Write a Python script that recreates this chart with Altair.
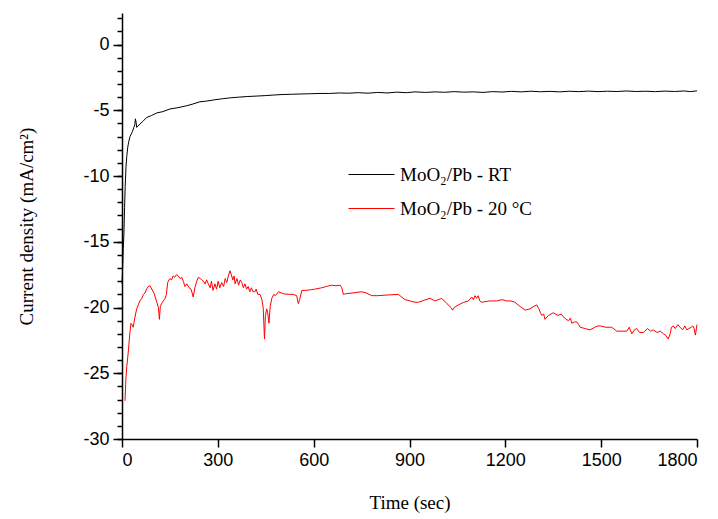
import altair as alt
import pandas as pd

black_label = "MoO\u2082/Pb - RT"
red_label = "MoO\u2082/Pb - 20 \u00b0C"

black_t = [0, 2, 4, 6, 8, 10, 12.5, 15, 18, 21, 25, 29, 33, 37, 40, 42, 44, 46, 50, 56,
           65, 77, 92, 109, 128, 150, 175, 203, 225, 244, 265, 291, 315, 340, 365, 394,
           420, 450, 475, 501, 530, 560, 590, 620, 650, 680, 708, 740, 770, 800, 830,
           860, 890, 917, 950, 980, 1010, 1040, 1070, 1100, 1130, 1160, 1190, 1220,
           1250, 1280, 1310, 1340, 1370, 1400, 1430, 1460, 1490, 1520, 1550, 1580,
           1610, 1640, 1670, 1700, 1730, 1760, 1780, 1800]
black_v = [-18.2, -17.0, -15.5, -14.4, -12.4, -10.8, -9.3, -8.5, -7.8, -7.4, -7.0, -6.8,
           -6.6, -6.3, -6.1, -5.65, -5.9, -6.3, -6.2, -6.05, -5.85, -5.55, -5.4, -5.2,
           -5.1, -4.9, -4.8, -4.65, -4.5, -4.35, -4.3, -4.2, -4.12, -4.05, -4.0, -3.95,
           -3.92, -3.88, -3.84, -3.8, -3.78, -3.76, -3.74, -3.72, -3.72, -3.68, -3.7,
           -3.66, -3.7, -3.64, -3.68, -3.62, -3.66, -3.6, -3.64, -3.6, -3.63, -3.58,
           -3.62, -3.6, -3.64, -3.58, -3.61, -3.56, -3.6, -3.55, -3.59, -3.56, -3.6,
           -3.55, -3.58, -3.54, -3.58, -3.55, -3.57, -3.53, -3.57, -3.55, -3.58, -3.54,
           -3.57, -3.53, -3.58, -3.52]

red_t = [9.4, 12, 15, 20, 24, 28, 31, 35, 40, 46, 51, 56, 62, 67, 72, 77, 82, 88, 93, 100,
         109, 114, 117, 120, 124, 129, 135, 139, 143, 147, 150, 155, 160, 165, 171, 176,
         182, 187, 192, 197, 203, 210, 216, 223, 228, 234, 239, 245, 250, 255, 260, 265,
         270, 276, 280, 285, 291, 296, 301, 306, 312, 318, 323, 328, 333, 338, 342, 347,
         351, 354, 360, 365, 370, 375, 380, 385, 390, 395, 400, 405, 410, 416, 420, 425,
         432, 438, 442, 446, 449, 453, 456, 460, 464, 469, 475, 480, 490, 505, 521, 535,
         547, 550, 552, 556, 563, 575, 590, 604, 625, 640, 656, 670, 683, 688, 693, 700,
         720, 750, 765, 782, 800, 830, 865, 886, 902, 917, 928, 945, 964, 980, 1001, 1017,
         1030, 1035, 1040, 1053, 1070, 1084, 1095, 1100, 1105, 1110, 1115, 1120, 1126,
         1150, 1173, 1190, 1204, 1218, 1230, 1245, 1262, 1277, 1290, 1298, 1305, 1310,
         1314, 1320, 1324, 1335, 1350, 1365, 1375, 1382, 1390, 1398, 1404, 1408, 1416,
         1424, 1430, 1434, 1450, 1465, 1480, 1490, 1497, 1515, 1533, 1549, 1565, 1580,
         1588, 1596, 1604, 1611, 1620, 1632, 1645, 1655, 1663, 1675, 1685, 1695, 1702,
         1710, 1716, 1720, 1726, 1732, 1740, 1747, 1755, 1762, 1768, 1775, 1782, 1787,
         1791, 1795, 1800]
red_v = [-27.1, -25.5, -24.5, -23.3, -22.1, -21.2, -21.3, -21.5, -20.8, -20.1, -19.8, -19.5,
         -19.3, -19.0, -18.9, -18.6, -18.4, -18.35, -18.6, -18.9, -19.6, -20.0, -20.9, -19.9,
         -19.7, -19.5, -19.3, -19.0, -18.1, -17.9, -17.8, -17.9, -17.6, -17.7, -17.5, -17.6,
         -17.8, -17.7, -18.0, -18.4, -18.2, -18.5, -18.6, -19.2, -18.5, -18.0, -17.7, -17.8,
         -17.9, -18.0, -18.2, -17.9, -18.2, -18.5, -18.0, -18.7, -18.2, -18.6, -18.0, -18.5,
         -18.1, -18.4, -17.8, -18.1, -17.6, -17.2, -17.5, -17.9, -17.6, -18.2, -17.8, -18.3,
         -17.9, -18.1, -18.5, -18.2, -18.6, -18.4, -18.8, -18.5, -18.8, -18.8, -18.6, -19.0,
         -19.0, -19.4, -20.0, -22.4, -20.6, -20.1, -20.4, -21.2, -19.9, -19.3, -19.0, -19.1,
         -18.8, -18.95, -19.0, -19.0, -19.1, -19.5, -19.7, -19.4, -18.7, -18.7, -18.65, -18.6,
         -18.5, -18.4, -18.3, -18.35, -18.3, -18.5, -19.0, -18.95, -18.9, -18.8, -18.9, -19.1,
         -19.1, -19.05, -19.0, -19.4, -19.5, -19.6, -19.6, -19.45, -19.3, -19.5, -19.3, -19.7,
         -20.0, -20.2, -20.0, -19.8, -19.6, -19.5, -19.2, -19.4, -19.1, -19.3, -19.1, -19.5,
         -19.6, -19.5, -19.5, -19.4, -19.5, -19.5, -19.6, -19.9, -20.2, -20.1, -19.9, -19.8,
         -20.1, -20.4, -20.6, -20.5, -20.9, -20.6, -20.4, -20.6, -20.5, -20.7, -20.9, -21.0,
         -20.8, -21.2, -21.1, -21.1, -21.3, -21.5, -21.6, -21.7, -21.5, -21.4, -21.4, -21.5,
         -21.5, -21.8, -21.8, -21.8, -21.5, -22.0, -21.7, -21.6, -21.9, -21.9, -21.6, -21.8,
         -21.7, -21.9, -21.8, -22.0, -22.1, -22.4, -22.0, -21.5, -21.4, -21.6, -21.3, -21.5,
         -21.7, -21.4, -21.7, -21.6, -21.5, -21.4, -21.6, -22.1, -21.3]

major_ticks = [-30, -25, -20, -15, -10, -5, 0]
minor_ticks = list(range(-30, 3))
x_ticks = [0, 300, 600, 900, 1200, 1500, 1800]

df_black = pd.DataFrame({"t": black_t, "v": black_v, "series": black_label})
df_red = pd.DataFrame({"t": red_t, "v": red_v, "series": red_label})

x_enc = alt.X("t:Q", scale=alt.Scale(domain=[0, 1800], nice=False, zero=False),
              axis=alt.Axis(values=x_ticks, format="d", title="Time (sec)", grid=False,
                            tickSize=8, labelPadding=4, titlePadding=24))
color_enc = alt.Color("series:N",
                      scale=alt.Scale(domain=[black_label, red_label],
                                      range=["#000000", "#ff0000"]),
                      legend=alt.Legend(title=None, orient="none", legendX=226, legendY=138,
                                        symbolType="stroke", symbolSize=2116,
                                        symbolStrokeWidth=1, labelOffset=5,
                                        labelFont="Liberation Serif", labelFontSize=19,
                                        labelColor="#000000", rowPadding=-2))
y_scale = alt.Scale(domain=[-30, 2.4], nice=False, zero=False)

black_layer = alt.Chart(df_black).mark_line(strokeWidth=1, clip=False).encode(
    x=x_enc,
    y=alt.Y("v:Q", scale=y_scale,
            axis=alt.Axis(values=major_ticks, orient="left", grid=False, tickSize=9,
                          labelPadding=4, labelExpr="'' + datum.value",
                          title="Current density (mA/cm\u00b2)", titlePadding=46)),
    color=color_enc,
)
red_layer = alt.Chart(df_red).mark_line(strokeWidth=1, clip=False).encode(
    x=x_enc,
    y=alt.Y("v:Q", scale=y_scale,
            axis=alt.Axis(values=minor_ticks, orient="left", grid=False, tickSize=5,
                          labels=False, domain=False, title=None)),
    color=color_enc,
)

chart = alt.layer(black_layer, red_layer).resolve_axis(y="independent").properties(
    width=575, height=426,
    background="white",
    autosize=alt.AutoSizeParams(type="none"),
    padding={"left": 122, "top": 13, "right": 21, "bottom": 80},
).configure_view(stroke=None).configure_axis(
    domainColor="#000000", domainWidth=1.5, tickColor="#000000", tickWidth=1.5,
    labelFont="Liberation Sans Narrow, Liberation Sans, Arial", labelFontSize=18,
    labelColor="#000000", titleFont="Liberation Serif", titleFontSize=19,
    titleFontWeight="normal", titleColor="#000000",
)

chart.save("out.html", embed_options={"renderer": "svg", "actions": False})
